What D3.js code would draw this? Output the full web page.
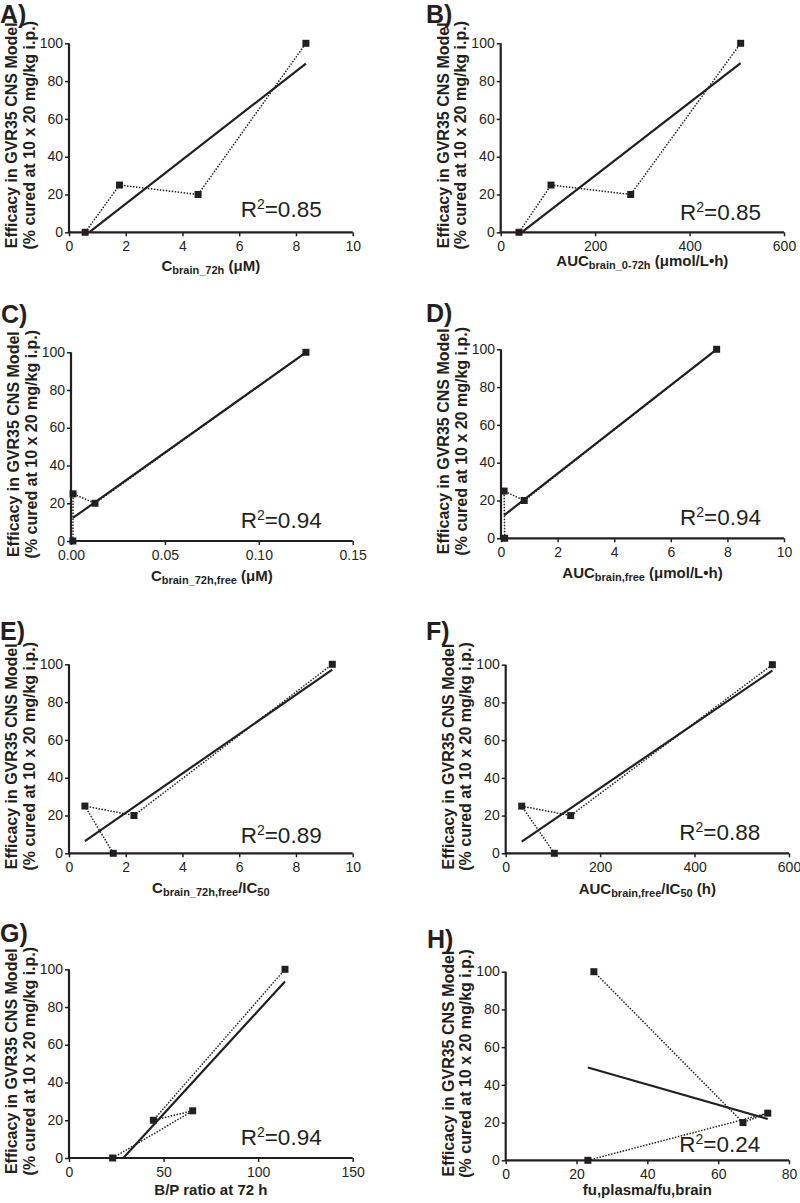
<!DOCTYPE html>
<html>
<head>
<meta charset="utf-8">
<script src="https://cdn.jsdelivr.net/npm/d3@7"></script>
<style>
  html, body { margin: 0; padding: 0; background: #fff; }
  svg { display: block; }
  text { font-family: "Liberation Sans", Arial, Helvetica, sans-serif; fill: #231f20; }
</style>
</head>
<body>
<svg id="chart" width="800" height="1203"></svg>
<script>
// ---------- data ----------
const efficacy = [0, 25, 20, 100]; // % cured, same compound order in every panel

const xA = [0.57, 1.78, 4.55, 8.35];        // Cbrain_72h (µM)
const xB = [38.8, 106.6, 275.3, 508.2];     // AUCbrain_0-72h
const xC = [0.0010, 0.0011, 0.0128, 0.1251];// Cbrain_72h,free
const xD = [0.13, 0.11, 0.82, 7.62];        // AUCbrain,free
const xE = [1.56, 0.56, 2.29, 9.28];        // Cbrain_72h,free/IC50
const xF = [103, 33.9, 137.6, 564.7];       // AUCbrain,free/IC50
const xG = [23.1, 65.4, 44.6, 114.2];       // B/P ratio at 72 h
const xH = [23.2, 74.0, 67.0, 24.9];        // fu,plasma/fu,brain

const panelLetters = ["A)", "B)", "C)", "D)", "E)", "F)", "G)", "H)"];
const r2Labels = ["0.85", "0.85", "0.94", "0.94", "0.89", "0.88", "0.94", "0.24"];

const yTicks = [0, 20, 40, 60, 80, 100];
const xTicksA = [0, 2, 4, 6, 8, 10];
const xTicksB = [0, 200, 400, 600];
const xTicksC = [0, 0.05, 0.10, 0.15];
const xTicksD = [0, 2, 4, 6, 8, 10];
const xTicksE = [0, 2, 4, 6, 8, 10];
const xTicksF = [0, 200, 400, 600];
const xTicksG = [0, 50, 100, 150];
const xTicksH = [0, 20, 40, 60, 80];

const yTitleLines = ["Efficacy in GVR35 CNS Model", "(% cured at 10 x 20 mg/kg i.p.)"];

// x-axis titles as [text, isSubscript] segments
const xTitleA = [["C", 0], ["brain_72h", 1], [" (\u03BCM)", 0]];
const xTitleB = [["AUC", 0], ["brain_0-72h", 1], [" (\u03BCmol/L\u2022h)", 0]];
const xTitleC = [["C", 0], ["brain_72h,free", 1], [" (\u03BCM)", 0]];
const xTitleD = [["AUC", 0], ["brain,free", 1], [" (\u03BCmol/L\u2022h)", 0]];
const xTitleE = [["C", 0], ["brain_72h,free", 1], ["/IC", 0], ["50", 1]];
const xTitleF = [["AUC", 0], ["brain,free", 1], ["/IC", 0], ["50", 1], [" (h)", 0]];
const xTitleG = [["B/P ratio at 72 h", 0]];
const xTitleH = [["fu,plasma/fu,brain", 0]];

const panels = [
  { x: xA, ticks: xTicksA, title: xTitleA, fmt: d3.format("d") },
  { x: xB, ticks: xTicksB, title: xTitleB, fmt: d3.format("d") },
  { x: xC, ticks: xTicksC, title: xTitleC, fmt: d3.format(".2f") },
  { x: xD, ticks: xTicksD, title: xTitleD, fmt: d3.format("d") },
  { x: xE, ticks: xTicksE, title: xTitleE, fmt: d3.format("d") },
  { x: xF, ticks: xTicksF, title: xTitleF, fmt: d3.format("d") },
  { x: xG, ticks: xTicksG, title: xTitleG, fmt: d3.format("d") },
  { x: xH, ticks: xTicksH, title: xTitleH, fmt: d3.format("d") }
];

// ---------- layout (pixel boxes) ----------
const boxes = [
  { x0: 69,    x1: 352.7, yT: 43.3,  yB: 232.3,  lx: 0,   ly: 23,    rx: 240.7, ry: 216.7, tdy: 39 },
  { x0: 500.7, x1: 784,   yT: 43.3,  yB: 232.3,  lx: 426, ly: 22.5,  rx: 680,   ry: 220,   tdy: 34 },
  { x0: 71,    x1: 352.7, yT: 352.3, yB: 541,    lx: 1,   ly: 323,   rx: 240.7, ry: 528.3, tdy: 40 },
  { x0: 501,   x1: 784,   yT: 349.3, yB: 538.3,  lx: 426, ly: 322,   rx: 680,   ry: 525,   tdy: 40 },
  { x0: 69,    x1: 352.7, yT: 664.3, yB: 853.3,  lx: 0,   ly: 640,   rx: 240.7, ry: 843.3, tdy: 40 },
  { x0: 505.7, x1: 789,   yT: 664.7, yB: 853.3,  lx: 426, ly: 640,   rx: 679.3, ry: 840,   tdy: 41 },
  { x0: 69,    x1: 352.7, yT: 969.3, yB: 1158,   lx: 0,   ly: 941.7, rx: 240.7, ry: 1145,  tdy: 37 },
  { x0: 505.7, x1: 789,   yT: 971.7, yB: 1160.3, lx: 427, ly: 948,   rx: 679.3, ry: 1151.7,tdy: 35 }
];

const ink = "#231f20";
const svg = d3.select("#chart");

function linFit(xs, ys) {
  const mx = d3.mean(xs), my = d3.mean(ys);
  let sxy = 0, sxx = 0;
  xs.forEach((x, i) => { sxy += (x - mx) * (ys[i] - my); sxx += (x - mx) * (x - mx); });
  const b = sxy / sxx;
  return { b, a: my - b * mx };
}

panels.forEach((p, i) => {
  const L = boxes[i];
  const xs = d3.scaleLinear().domain([p.ticks[0], p.ticks[p.ticks.length - 1]]).range([L.x0, L.x1]);
  const ys = d3.scaleLinear().domain([0, 100]).range([L.yB, L.yT]);
  const g = svg.append("g");

  // axes
  const xAxis = d3.axisBottom(xs).tickValues(p.ticks).tickFormat(p.fmt).tickSize(4).tickPadding(5);
  const yAxis = d3.axisLeft(ys).tickValues(yTicks).tickFormat(d3.format("d")).tickSize(4).tickPadding(2);
  const gx = g.append("g").attr("transform", `translate(0,${L.yB})`).call(xAxis);
  const gy = g.append("g").attr("transform", `translate(${L.x0},0)`).call(yAxis);
  [gx, gy].forEach(a => {
    a.select(".domain").remove();
    a.selectAll(".tick line").attr("stroke", ink).attr("stroke-width", 1.5);
    a.selectAll(".tick text").attr("font-size", 14).attr("fill", "#333")
      .attr("font-family", "Liberation Sans, Arial, sans-serif");
  });
  gy.selectAll(".tick text").attr("dy", "0.3em");
  g.append("line").attr("x1", L.x0).attr("x2", L.x1).attr("y1", L.yB).attr("y2", L.yB)
    .attr("stroke", ink).attr("stroke-width", 2.2);
  g.append("line").attr("x1", L.x0).attr("x2", L.x0).attr("y1", L.yT).attr("y2", L.yB + 1)
    .attr("stroke", ink).attr("stroke-width", 2.2);

  // regression line, clipped at y = 0
  const fit = linFit(p.x, efficacy);
  let xa = d3.min(p.x), xb = d3.max(p.x);
  const f = x => fit.a + fit.b * x;
  if (f(xa) < 0) xa = -fit.a / fit.b;
  if (f(xb) < 0) xb = -fit.a / fit.b;
  g.append("line")
    .attr("x1", xs(xa)).attr("y1", ys(f(xa)))
    .attr("x2", xs(xb)).attr("y2", ys(f(xb)))
    .attr("stroke", ink).attr("stroke-width", 2.2);

  // dotted connecting line (in compound order)
  const pts = p.x.map((x, k) => [x, efficacy[k]]);
  g.append("path")
    .attr("d", d3.line().x(d => xs(d[0])).y(d => ys(d[1]))(pts))
    .attr("fill", "none").attr("stroke", ink).attr("stroke-width", 1.5)
    .attr("stroke-dasharray", "1.5,1.5");

  // square markers
  g.selectAll("rect.pt").data(pts).enter().append("rect")
    .attr("x", d => xs(d[0]) - 3.5).attr("y", d => ys(d[1]) - 3.5)
    .attr("width", 7).attr("height", 7).attr("fill", ink);

  // panel letter
  g.append("text").attr("x", L.lx).attr("y", L.ly)
    .attr("font-size", 25).attr("font-weight", "bold").text(panelLetters[i]);

  // R^2 label
  const r = g.append("text").attr("x", L.rx).attr("y", L.ry).attr("font-size", 22.5);
  r.append("tspan").text("R");
  r.append("tspan").attr("font-size", 14).attr("dy", -8).text("2");
  r.append("tspan").attr("dy", 8).text("=" + r2Labels[i]);

  // y-axis title
  const cy = (L.yT + L.yB) / 2 - 2.5;
  [[yTitleLines[0], L.x0 - 52], [yTitleLines[1], L.x0 - 34.5]].forEach(([t, bx]) => {
    g.append("text")
      .attr("transform", `translate(${bx},${cy}) rotate(-90)`)
      .attr("text-anchor", "middle").attr("font-size", 16).attr("font-weight", "bold")
      .text(t);
  });

  // x-axis title
  const xt = g.append("text")
    .attr("x", (L.x0 + L.x1) / 2).attr("y", L.yB + L.tdy)
    .attr("text-anchor", "middle").attr("font-weight", "bold").attr("font-size", 15);
  let shifted = 0;
  p.title.forEach(([t, sub]) => {
    const ts = xt.append("tspan").text(t);
    if (sub) { ts.attr("font-size", 11).attr("dy", 3 - shifted); shifted = 3; }
    else { ts.attr("dy", -shifted); shifted = 0; }
  });
});
</script>
</body>
</html>
